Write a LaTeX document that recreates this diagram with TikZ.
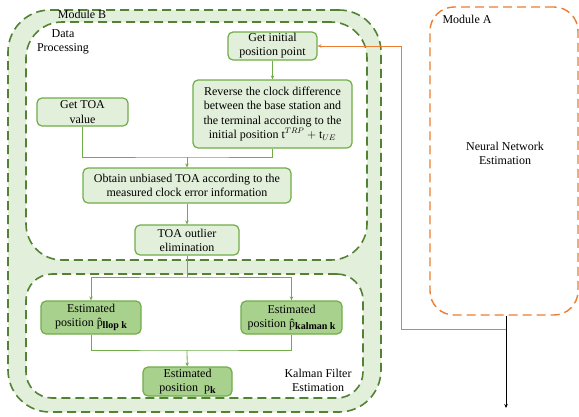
\documentclass[tikz,border=0pt]{standalone}
\usepackage{fontspec}
\setmainfont{Liberation Serif}
\usetikzlibrary{arrows.meta}
\definecolor{gfill}{HTML}{E2EFDA}
\definecolor{gmid}{HTML}{A9D18E}
\definecolor{gline}{HTML}{70AD47}
\definecolor{gdash}{HTML}{548235}
\definecolor{orng}{HTML}{ED7D31}
\tikzset{
  every node/.style={font=\fontsize{12}{14.2}\selectfont},
  module/.style={draw=gdash, line width=1.6pt, dash pattern=on 9pt off 5pt},
  stage/.style={draw=gline, line width=1.2pt, rounded corners=5pt, fill=gfill,
    inner sep=0pt, align=center},
  kstage/.style={stage, fill=gmid},
  link/.style={draw=gline, line width=0.8pt},
  arr/.style={link, -{Stealth[length=4pt,width=3.5pt]}},
  feed/.style={draw=orng, line width=0.9pt},
  sub/.style={},
}
\newcommand{\subbf}[1]{\raisebox{-0.3ex}{\fontsize{10}{10}\selectfont\bfseries #1}}
\begin{document}
\begin{tikzpicture}[x=1pt,y=-1pt]
\useasboundingbox (0,0) rectangle (579,416);
% Module B and its two inner stages
\node[module, fill=gfill, rounded corners=42pt, minimum width=373pt, minimum height=402pt] (modB) at (194.5,211) {};
\node[module, fill=white, rounded corners=36pt, minimum width=341pt, minimum height=238pt] (dp) at (196.5,141) {};
\node[module, fill=white, rounded corners=26pt, minimum width=337pt, minimum height=124pt] (kf) at (194.5,336) {};
\node (labB) at (82,14) {Module B};
\node (labDP) at (63,42) [align=center] {Data\\Processing};
\node (labKF) at (318,380) [align=center] {Kalman Filter\\Estimation};
% Module A
\node[draw=orng, line width=1.4pt, dash pattern=on 9pt off 5pt, rounded corners=24pt,
  minimum width=148pt, minimum height=308pt] (modA) at (504,161) {};
\node (labA) at (467,19) {Module A};
\node (nn) at (505,153) [align=center] {Neural Network\\Estimation};
% processing steps
\node[stage, minimum width=89pt, minimum height=28pt] (init) at (272.5,46) {Get initial\\position point};
\node[stage, minimum width=159pt, minimum height=68pt] (rev) at (272.5,114)
  {Reverse the clock difference\\between the base station and\\the terminal according to the\\initial position t$^{TRP}+\mathrm{t}_{UE}$};
\node[stage, minimum width=91pt, minimum height=28pt] (toa) at (82.5,112) {Get TOA\\value};
\node[stage, minimum width=208pt, minimum height=35pt] (obt) at (187,185.5)
  {Obtain unbiased TOA according to the\\measured clock error information};
\node[stage, minimum width=104pt, minimum height=30pt] (outl) at (187,240) {TOA outlier\\elimination};
\node[kstage, minimum width=100pt, minimum height=33pt] (llop) at (91,317.5)
  {Estimated\\position \^{p}\subbf{llop k}};
\node[kstage, minimum width=101pt, minimum height=33pt] (kal) at (291.5,317.5)
  {Estimated\\position \^{p}\subbf{kalman k}};
\node[kstage, minimum width=89pt, minimum height=29pt] (pk) at (187.5,381.5)
  {Estimated\\position~ p\subbf{k}};
% junction points
\coordinate (m1) at (187,157);
\coordinate (m2) at (187,277);
\coordinate (m3) at (187,350);
\coordinate (bend) at (401,329);
\coordinate (out) at (506,408);
% connectors
\draw[arr] (init) -- (rev);
\draw[link] (toa.south) |- (m1) -| (rev.south);
\draw[arr] (m1) -- (obt);
\draw[arr] (obt) -- (outl);
\draw[link] (outl) -- (m2);
\draw[arr, {Stealth[length=4pt,width=3.5pt]}-{Stealth[length=4pt,width=3.5pt]}] (llop.north) |- (m2) -| (kal.north);
\draw[link] (llop.south) |- (m3) -| (kal.south);
\draw[arr] (m3) -- (pk);
\draw[feed, -{Stealth[length=4pt,width=3.5pt]}] (modA.south -| out) |- (bend) |- (init.east);
\draw[line width=0.8pt, -{Stealth[length=4pt,width=3.5pt]}] (modA.south -| out) -- (out);
\end{tikzpicture}
\end{document}
